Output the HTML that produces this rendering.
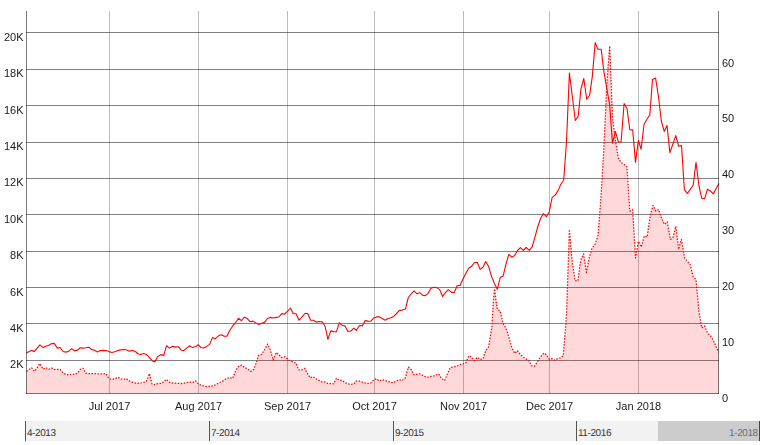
<!DOCTYPE html>
<html><head><meta charset="utf-8"><title>Chart</title>
<style>
html,body{margin:0;padding:0;background:#fff;}
body{width:761px;height:445px;overflow:hidden;font-family:"Liberation Sans",sans-serif;}
svg{display:block;}
text{font-family:"Liberation Sans",sans-serif;}
</style></head><body>
<svg width="761" height="445" viewBox="0 0 761 445">
<rect x="0" y="0" width="761" height="445" fill="#ffffff"/>
<g stroke="#000000" stroke-opacity="0.26" stroke-width="1" shape-rendering="crispEdges">
<line x1="109.5" y1="11" x2="109.5" y2="393"/>
<line x1="198.5" y1="11" x2="198.5" y2="393"/>
<line x1="287.5" y1="11" x2="287.5" y2="393"/>
<line x1="374.5" y1="11" x2="374.5" y2="393"/>
<line x1="463.5" y1="11" x2="463.5" y2="393"/>
<line x1="549.5" y1="11" x2="549.5" y2="393"/>
<line x1="638.5" y1="11" x2="638.5" y2="393"/>
</g>
<g stroke="#000000" stroke-opacity="0.49" stroke-width="1" shape-rendering="crispEdges">
<line x1="26" y1="32.5" x2="719" y2="32.5"/>
<line x1="26" y1="69.5" x2="719" y2="69.5"/>
<line x1="26" y1="105.5" x2="719" y2="105.5"/>
<line x1="26" y1="142.5" x2="719" y2="142.5"/>
<line x1="26" y1="178.5" x2="719" y2="178.5"/>
<line x1="26" y1="214.5" x2="719" y2="214.5"/>
<line x1="26" y1="251.5" x2="719" y2="251.5"/>
<line x1="26" y1="287.5" x2="719" y2="287.5"/>
<line x1="26" y1="323.5" x2="719" y2="323.5"/>
<line x1="26" y1="360.5" x2="719" y2="360.5"/>
</g>
<path d="M26.5,371.4 L29.2,369.3 L31.6,367.9 L34.5,371.4 L37.4,367.3 L39.9,363.6 L43.0,369.1 L45.9,367.6 L48.8,369.3 L51.5,368.0 L54.3,369.5 L57.3,369.3 L60.1,369.5 L63.0,372.7 L65.9,374.6 L68.8,374.9 L71.7,373.9 L74.5,374.3 L77.4,373.3 L80.3,369.3 L83.0,368.3 L86.0,373.3 L88.8,373.6 L91.8,373.6 L94.7,373.6 L97.4,373.8 L100.3,373.9 L103.2,373.8 L106.1,373.7 L109.0,378.4 L112.0,379.6 L115.1,378.6 L118.0,377.3 L120.9,379.0 L123.7,379.4 L126.4,378.7 L129.3,380.9 L132.2,382.1 L135.0,382.8 L137.8,383.4 L140.7,383.0 L143.6,382.4 L146.3,381.5 L149.5,373.6 L152.0,384.0 L154.9,384.7 L157.7,383.6 L160.8,383.4 L163.8,381.9 L166.5,379.4 L169.4,382.4 L172.5,383.1 L175.4,383.1 L178.4,383.4 L181.3,383.6 L184.2,383.1 L187.3,382.4 L189.9,382.1 L193.0,382.4 L195.5,380.9 L198.8,384.4 L201.7,385.3 L204.6,386.2 L207.3,386.6 L210.5,386.2 L213.7,385.7 L216.8,384.0 L220.0,382.5 L223.1,380.9 L226.3,378.6 L229.4,377.5 L232.6,378.4 L235.7,370.8 L238.2,366.8 L241.4,365.1 L244.6,367.6 L247.7,368.9 L250.8,371.4 L253.8,369.5 L256.5,362.0 L258.4,355.6 L261.6,354.4 L264.7,349.4 L267.6,344.1 L270.4,350.0 L273.2,360.1 L276.1,352.5 L279.2,355.0 L281.8,357.6 L284.9,356.7 L287.4,358.8 L288.5,359.9 L291.7,361.4 L294.6,362.7 L296.1,363.3 L298.6,369.9 L301.8,370.0 L304.7,368.4 L307.4,373.4 L310.3,377.8 L313.1,376.8 L316.3,379.1 L319.4,380.6 L322.3,382.2 L325.1,381.9 L327.9,383.5 L330.8,383.5 L333.7,383.8 L336.4,378.2 L339.3,380.4 L342.1,380.4 L345.0,382.6 L347.8,383.9 L350.7,384.4 L353.7,384.1 L356.4,381.0 L359.4,381.0 L362.3,382.2 L365.2,382.9 L368.0,383.5 L370.9,382.9 L373.9,379.7 L376.4,378.8 L379.3,381.0 L382.3,379.7 L385.2,380.4 L388.1,381.6 L390.9,382.6 L393.7,382.6 L396.6,381.0 L399.1,379.7 L402.3,380.4 L405.4,377.8 L408.3,367.1 L411.3,369.6 L413.6,374.7 L416.8,374.3 L419.7,373.8 L422.4,375.3 L425.3,376.8 L428.1,377.2 L431.0,376.3 L433.8,375.9 L436.7,374.7 L438.8,374.1 L441.4,378.5 L444.5,380.6 L447.4,374.1 L450.2,367.7 L453.3,366.9 L456.2,366.2 L459.3,365.2 L460.5,364.5 L463.0,363.9 L465.9,362.6 L468.7,355.9 L471.6,356.9 L474.4,360.7 L477.3,357.2 L480.1,359.4 L483.0,358.8 L485.7,350.6 L488.6,346.8 L491.8,328.1 L492.7,313.0 L493.7,296.6 L494.6,289.0 L495.8,299.1 L497.3,309.2 L500.2,311.1 L503.0,323.7 L505.9,328.1 L508.8,337.0 L511.9,348.1 L514.8,353.4 L517.3,350.6 L519.8,353.8 L522.7,356.7 L525.7,358.8 L528.6,360.1 L531.5,365.7 L534.3,366.4 L537.2,362.0 L540.0,357.6 L543.8,353.1 L546.6,355.0 L549.4,359.4 L552.0,358.6 L554.5,360.2 L557.6,358.6 L560.8,357.9 L563.3,355.6 L566.5,315.0 L569.4,229.5 L572.3,263.0 L575.1,280.7 L577.9,281.0 L580.8,260.0 L583.6,254.0 L586.4,272.3 L589.4,257.0 L592.0,248.4 L595.2,244.0 L598.1,235.1 L601.0,197.0 L603.9,148.0 L606.8,85.0 L609.7,46.0 L612.5,118.0 L615.4,140.0 L618.3,158.0 L621.1,162.7 L624.0,164.4 L626.9,166.5 L629.8,211.0 L632.6,209.7 L635.5,257.8 L638.4,241.4 L641.3,247.0 L644.2,236.1 L647.1,237.0 L650.2,216.2 L653.0,205.5 L655.9,211.1 L658.8,209.6 L661.5,218.1 L664.3,224.4 L667.2,221.9 L670.4,239.5 L672.9,237.6 L675.8,226.3 L678.6,249.3 L681.4,239.5 L684.6,257.7 L687.4,261.4 L690.3,264.8 L693.1,276.6 L696.0,279.7 L698.9,311.0 L701.7,328.0 L704.6,326.0 L707.5,333.0 L710.4,335.5 L713.2,340.2 L716.1,346.8 L718.8,352.2 L718.8,393.5 L26.5,393.5 Z" fill="#ff0000" fill-opacity="0.15" stroke="none"/>
<path d="M26.5,371.4 L29.2,369.3 L31.6,367.9 L34.5,371.4 L37.4,367.3 L39.9,363.6 L43.0,369.1 L45.9,367.6 L48.8,369.3 L51.5,368.0 L54.3,369.5 L57.3,369.3 L60.1,369.5 L63.0,372.7 L65.9,374.6 L68.8,374.9 L71.7,373.9 L74.5,374.3 L77.4,373.3 L80.3,369.3 L83.0,368.3 L86.0,373.3 L88.8,373.6 L91.8,373.6 L94.7,373.6 L97.4,373.8 L100.3,373.9 L103.2,373.8 L106.1,373.7 L109.0,378.4 L112.0,379.6 L115.1,378.6 L118.0,377.3 L120.9,379.0 L123.7,379.4 L126.4,378.7 L129.3,380.9 L132.2,382.1 L135.0,382.8 L137.8,383.4 L140.7,383.0 L143.6,382.4 L146.3,381.5 L149.5,373.6 L152.0,384.0 L154.9,384.7 L157.7,383.6 L160.8,383.4 L163.8,381.9 L166.5,379.4 L169.4,382.4 L172.5,383.1 L175.4,383.1 L178.4,383.4 L181.3,383.6 L184.2,383.1 L187.3,382.4 L189.9,382.1 L193.0,382.4 L195.5,380.9 L198.8,384.4 L201.7,385.3 L204.6,386.2 L207.3,386.6 L210.5,386.2 L213.7,385.7 L216.8,384.0 L220.0,382.5 L223.1,380.9 L226.3,378.6 L229.4,377.5 L232.6,378.4 L235.7,370.8 L238.2,366.8 L241.4,365.1 L244.6,367.6 L247.7,368.9 L250.8,371.4 L253.8,369.5 L256.5,362.0 L258.4,355.6 L261.6,354.4 L264.7,349.4 L267.6,344.1 L270.4,350.0 L273.2,360.1 L276.1,352.5 L279.2,355.0 L281.8,357.6 L284.9,356.7 L287.4,358.8 L288.5,359.9 L291.7,361.4 L294.6,362.7 L296.1,363.3 L298.6,369.9 L301.8,370.0 L304.7,368.4 L307.4,373.4 L310.3,377.8 L313.1,376.8 L316.3,379.1 L319.4,380.6 L322.3,382.2 L325.1,381.9 L327.9,383.5 L330.8,383.5 L333.7,383.8 L336.4,378.2 L339.3,380.4 L342.1,380.4 L345.0,382.6 L347.8,383.9 L350.7,384.4 L353.7,384.1 L356.4,381.0 L359.4,381.0 L362.3,382.2 L365.2,382.9 L368.0,383.5 L370.9,382.9 L373.9,379.7 L376.4,378.8 L379.3,381.0 L382.3,379.7 L385.2,380.4 L388.1,381.6 L390.9,382.6 L393.7,382.6 L396.6,381.0 L399.1,379.7 L402.3,380.4 L405.4,377.8 L408.3,367.1 L411.3,369.6 L413.6,374.7 L416.8,374.3 L419.7,373.8 L422.4,375.3 L425.3,376.8 L428.1,377.2 L431.0,376.3 L433.8,375.9 L436.7,374.7 L438.8,374.1 L441.4,378.5 L444.5,380.6 L447.4,374.1 L450.2,367.7 L453.3,366.9 L456.2,366.2 L459.3,365.2 L460.5,364.5 L463.0,363.9 L465.9,362.6 L468.7,355.9 L471.6,356.9 L474.4,360.7 L477.3,357.2 L480.1,359.4 L483.0,358.8 L485.7,350.6 L488.6,346.8 L491.8,328.1 L492.7,313.0 L493.7,296.6 L494.6,289.0 L495.8,299.1 L497.3,309.2 L500.2,311.1 L503.0,323.7 L505.9,328.1 L508.8,337.0 L511.9,348.1 L514.8,353.4 L517.3,350.6 L519.8,353.8 L522.7,356.7 L525.7,358.8 L528.6,360.1 L531.5,365.7 L534.3,366.4 L537.2,362.0 L540.0,357.6 L543.8,353.1 L546.6,355.0 L549.4,359.4 L552.0,358.6 L554.5,360.2 L557.6,358.6 L560.8,357.9 L563.3,355.6 L566.5,315.0 L569.4,229.5 L572.3,263.0 L575.1,280.7 L577.9,281.0 L580.8,260.0 L583.6,254.0 L586.4,272.3 L589.4,257.0 L592.0,248.4 L595.2,244.0 L598.1,235.1 L601.0,197.0 L603.9,148.0 L606.8,85.0 L609.7,46.0 L612.5,118.0 L615.4,140.0 L618.3,158.0 L621.1,162.7 L624.0,164.4 L626.9,166.5 L629.8,211.0 L632.6,209.7 L635.5,257.8 L638.4,241.4 L641.3,247.0 L644.2,236.1 L647.1,237.0 L650.2,216.2 L653.0,205.5 L655.9,211.1 L658.8,209.6 L661.5,218.1 L664.3,224.4 L667.2,221.9 L670.4,239.5 L672.9,237.6 L675.8,226.3 L678.6,249.3 L681.4,239.5 L684.6,257.7 L687.4,261.4 L690.3,264.8 L693.1,276.6 L696.0,279.7 L698.9,311.0 L701.7,328.0 L704.6,326.0 L707.5,333.0 L710.4,335.5 L713.2,340.2 L716.1,346.8 L718.8,352.2" fill="none" stroke="#ff0000" stroke-width="1.25" stroke-dasharray="1.5,1.5" stroke-linejoin="round"/>
<path d="M26.5,352.9 L29.2,351.6 L31.6,350.6 L34.5,351.4 L37.4,347.8 L39.9,344.9 L43.0,347.6 L45.9,346.2 L48.8,345.3 L51.5,343.6 L54.3,343.4 L57.3,348.1 L60.1,347.5 L63.0,351.5 L65.9,352.1 L68.8,351.2 L71.7,348.7 L74.5,350.9 L77.4,350.1 L80.3,347.8 L83.0,348.1 L86.0,347.8 L88.8,347.3 L91.8,349.6 L94.7,350.2 L97.4,352.1 L100.3,350.6 L103.2,350.4 L106.1,350.6 L109.0,351.6 L112.0,352.5 L115.5,351.5 L118.4,350.4 L121.3,349.7 L124.2,349.6 L126.2,349.7 L129.3,351.2 L132.5,350.4 L135.3,351.5 L138.2,354.0 L140.7,354.4 L143.6,353.4 L146.3,354.4 L149.5,357.6 L152.4,360.9 L154.9,361.7 L157.4,356.9 L160.8,354.6 L163.8,355.4 L166.5,345.6 L169.4,348.1 L172.5,346.2 L175.4,347.1 L178.4,346.8 L181.3,350.2 L183.6,350.6 L186.7,348.1 L189.6,345.8 L192.6,347.6 L195.5,346.6 L198.3,344.8 L201.0,347.5 L203.9,347.9 L206.7,346.4 L209.6,344.4 L212.4,337.6 L215.2,338.8 L218.7,335.6 L221.2,334.7 L224.4,336.3 L226.9,336.3 L229.8,330.3 L232.6,326.2 L235.5,322.7 L238.5,318.3 L241.4,320.6 L244.3,317.3 L247.1,318.3 L250.0,321.7 L253.0,321.1 L255.9,322.9 L258.7,324.6 L261.6,323.3 L264.5,322.4 L267.2,318.7 L270.1,317.4 L273.2,318.0 L276.1,317.4 L278.9,317.0 L281.8,313.6 L284.6,314.1 L287.4,311.4 L290.4,308.0 L293.3,313.7 L296.1,313.7 L299.0,320.2 L301.8,317.1 L304.9,313.5 L307.7,313.5 L310.6,320.2 L313.5,320.2 L316.3,322.1 L319.4,321.5 L322.3,321.7 L325.1,326.5 L327.9,339.4 L330.8,330.9 L333.7,331.6 L336.4,331.8 L339.3,322.7 L342.1,325.3 L345.0,325.9 L347.8,331.3 L350.7,331.3 L353.7,328.2 L356.4,330.3 L359.4,325.5 L362.3,325.9 L365.2,320.6 L368.0,321.1 L370.9,321.2 L373.9,317.9 L376.4,316.9 L379.3,316.7 L382.3,318.6 L385.2,320.2 L388.1,318.6 L390.9,317.7 L393.7,316.4 L396.6,313.5 L399.5,310.4 L402.3,310.1 L405.4,309.1 L408.3,297.5 L411.1,294.0 L414.0,290.8 L416.8,293.7 L419.7,292.7 L422.4,295.2 L425.3,295.6 L428.1,293.3 L431.0,288.3 L433.8,287.3 L436.7,287.6 L439.7,289.6 L442.6,296.5 L445.4,292.7 L448.3,289.6 L451.2,292.1 L454.2,292.7 L457.1,285.8 L460.0,285.4 L463.0,278.9 L465.9,273.2 L468.7,268.2 L471.6,266.3 L474.4,262.5 L477.3,262.5 L480.1,269.4 L483.0,267.3 L485.7,261.6 L488.6,266.3 L491.4,276.1 L494.3,283.3 L497.3,289.2 L500.2,277.6 L503.1,276.1 L505.9,264.4 L508.8,254.3 L511.9,257.2 L514.8,255.6 L517.5,250.5 L520.4,247.7 L523.3,250.4 L526.2,247.5 L529.3,250.4 L532.2,246.9 L535.1,236.6 L537.8,226.5 L540.7,218.3 L543.5,213.6 L546.4,216.7 L549.2,212.0 L552.1,197.6 L555.1,195.1 L558.0,190.9 L560.8,184.2 L563.7,180.2 L566.5,141.8 L569.4,73.1 L572.2,95.5 L575.3,120.5 L578.2,116.2 L580.9,89.2 L583.8,78.5 L586.7,99.3 L589.6,95.3 L592.3,76.6 L595.2,42.6 L598.0,49.3 L601.2,49.3 L603.9,71.6 L606.7,88.0 L609.6,104.4 L612.5,143.1 L615.4,131.5 L618.4,142.2 L621.1,141.8 L624.1,103.5 L627.0,108.5 L629.8,129.7 L632.7,129.9 L635.5,162.4 L638.4,140.3 L641.1,149.3 L644.0,124.5 L646.8,119.5 L649.8,115.0 L652.5,79.4 L655.6,78.1 L658.5,96.8 L661.3,121.0 L664.2,131.4 L667.0,125.4 L669.9,152.6 L672.9,144.0 L675.8,135.6 L678.7,146.3 L681.5,145.6 L684.4,189.7 L687.4,193.5 L690.2,189.4 L693.2,185.3 L696.0,162.2 L698.9,185.3 L701.7,198.3 L704.6,198.8 L707.4,189.3 L710.4,191.0 L713.3,193.9 L716.1,188.5 L719.0,183.4" fill="none" stroke="#ff0000" stroke-width="1.1" stroke-linejoin="round"/>
<g stroke="#000000" stroke-opacity="0.52" stroke-width="1" shape-rendering="crispEdges">
<line x1="26.5" y1="11" x2="26.5" y2="394"/>
<line x1="718.5" y1="11" x2="718.5" y2="394"/>
<line x1="26" y1="393.5" x2="719" y2="393.5"/>
</g>
<g font-size="11px" fill="#1a1a1a" style="will-change:transform">
<text x="23.5" y="41" text-anchor="end">20K</text>
<text x="23.5" y="77" text-anchor="end">18K</text>
<text x="23.5" y="114" text-anchor="end">16K</text>
<text x="23.5" y="150" text-anchor="end">14K</text>
<text x="23.5" y="186" text-anchor="end">12K</text>
<text x="23.5" y="223" text-anchor="end">10K</text>
<text x="23.5" y="259" text-anchor="end">8K</text>
<text x="23.5" y="296" text-anchor="end">6K</text>
<text x="23.5" y="332" text-anchor="end">4K</text>
<text x="23.5" y="368" text-anchor="end">2K</text>
<text x="722" y="402">0</text>
<text x="722" y="346">10</text>
<text x="722" y="290">20</text>
<text x="722" y="234">30</text>
<text x="722" y="178">40</text>
<text x="722" y="122">50</text>
<text x="722" y="67">60</text>
<text x="109.5" y="410" text-anchor="middle">Jul 2017</text>
<text x="198.5" y="410" text-anchor="middle">Aug 2017</text>
<text x="287.5" y="410" text-anchor="middle">Sep 2017</text>
<text x="374.5" y="410" text-anchor="middle">Oct 2017</text>
<text x="463.5" y="410" text-anchor="middle">Nov 2017</text>
<text x="549.5" y="410" text-anchor="middle">Dec 2017</text>
<text x="638.5" y="410" text-anchor="middle">Jan 2018</text>
</g>
<rect x="26" y="421" width="734" height="20" fill="#f2f2f2"/>
<rect x="658" y="421" width="102" height="20" fill="#cccccc"/>
<g stroke="#000000" stroke-opacity="0.66" stroke-width="1" shape-rendering="crispEdges">
<line x1="25.5" y1="421" x2="25.5" y2="441"/>
<line x1="209.5" y1="421" x2="209.5" y2="441"/>
<line x1="393.5" y1="421" x2="393.5" y2="441"/>
<line x1="576.5" y1="421" x2="576.5" y2="441"/>
<line x1="759.5" y1="421" x2="759.5" y2="441"/>
</g>
<g font-size="10px" fill="#333333" letter-spacing="-0.4" style="text-rendering:geometricPrecision">
<text x="26.9" y="436">4-2013</text>
<text x="210.9" y="436">7-2014</text>
<text x="394.9" y="436">9-2015</text>
<text x="577.9" y="436">11-2016</text>
<text x="757.8" y="436" text-anchor="end" fill="#6a6a78">1-2018</text>
</g>
</svg></body></html>
